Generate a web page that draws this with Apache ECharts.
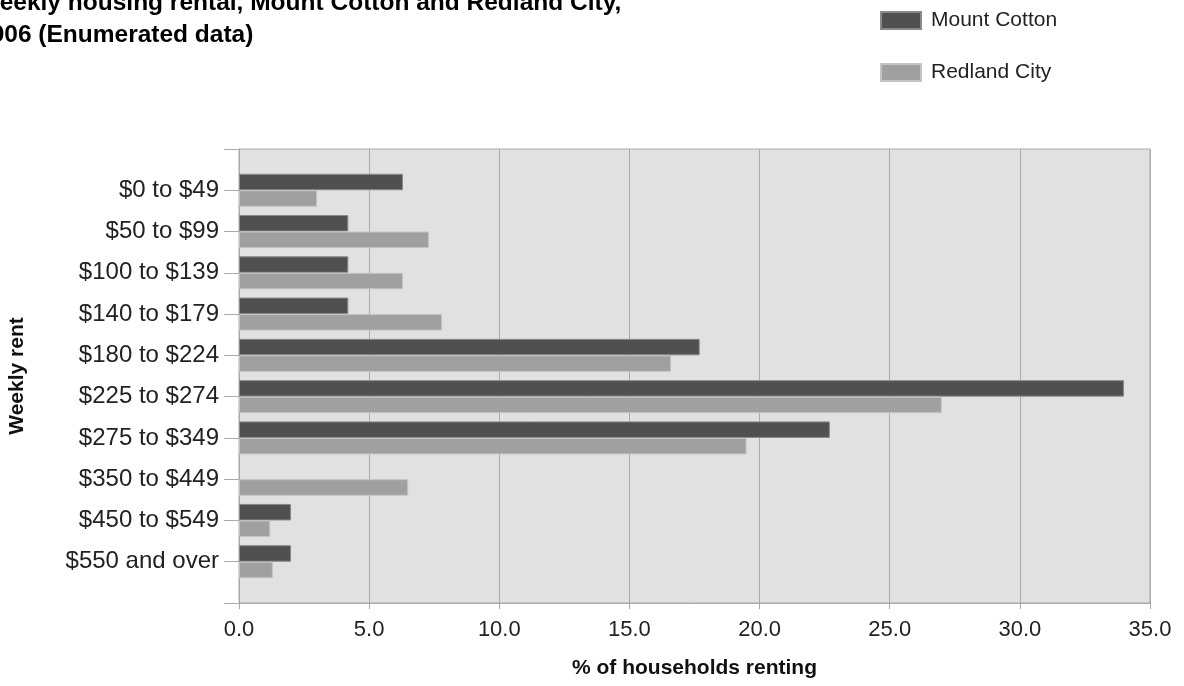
<!DOCTYPE html>
<html>
<head>
<meta charset="utf-8">
<script src="https://cdn.jsdelivr.net/npm/echarts@6/dist/echarts.min.js"></script>
<style>
  html, body { margin: 0; padding: 0; background: #fff; }
  #chart { width: 1184px; height: 686px; }
</style>
</head>
<body>
<div id="chart"></div>
<script>
// weekly rent bands, top to bottom
var categories = ['$0 to $49', '$50 to $99', '$100 to $139', '$140 to $179', '$180 to $224',
    '$225 to $274', '$275 to $349', '$350 to $449', '$450 to $549', '$550 and over'];
// % of households renting
var mountCotton = [6.3, 4.2, 4.2, 4.2, 17.7, 34.0, 22.7, 0, 2.0, 2.0];
var redlandCity = [3.0, 7.3, 6.3, 7.8, 16.6, 27.0, 19.5, 6.5, 1.2, 1.3];
var xTicks = [0, 5, 10, 15, 20, 25, 30, 35];

var chart = echarts.init(document.getElementById('chart'));

// empty slot above and below so the plot has a spare band at each end
function pad(arr) {
    var out = ['-'];
    arr.forEach(function(v) { out.push(v === 0 ? '-' : v); });
    out.push('-');
    return out;
}

var fontFamily = '"Liberation Sans", Arial, sans-serif';

chart.setOption({
    animation: false,
    textStyle: { fontFamily: fontFamily },
    title: {
        text: 'Weekly housing rental, Mount Cotton and Redland City,\n2006 (Enumerated data)',
        left: -23,
        top: -13,
        padding: 0,
        textStyle: { fontSize: 24.5, fontWeight: 'bold', color: '#000', lineHeight: 32, fontFamily: fontFamily }
    },
    legend: {
        orient: 'vertical',
        left: 880,
        top: 10,
        padding: 0,
        itemWidth: 40,
        itemHeight: 17,
        itemGap: 31,
        icon: 'rect',
        textStyle: { fontSize: 21, color: '#222', lineHeight: 20, padding: [0, 0, 0, 5] },
        data: ['Mount Cotton', 'Redland City']
    },
    grid: {
        left: 239,
        right: 34,
        top: 149,
        bottom: 83,
        show: true,
        backgroundColor: '#e1e1e1',
        borderColor: '#aaaaaa',
        borderWidth: 1,
        containLabel: false,
        outerBoundsMode: 'none'
    },
    xAxis: {
        type: 'value',
        min: xTicks[0],
        max: xTicks[xTicks.length - 1],
        interval: 5,
        name: '% of households renting',
        nameLocation: 'middle',
        nameGap: 55,
        nameTextStyle: { fontSize: 21, fontWeight: 'bold', color: '#111' },
        axisLine: { show: true, lineStyle: { color: '#aaaaaa' } },
        axisTick: { show: true, length: 6, lineStyle: { color: '#aaaaaa' } },
        axisLabel: {
            fontSize: 22, color: '#222', margin: 16,
            formatter: function(v) { return v.toFixed(1); }
        },
        splitLine: { show: true, lineStyle: { color: '#aaaaaa', width: 1 } }
    },
    yAxis: {
        type: 'category',
        inverse: true,
        boundaryGap: false,
        data: [''].concat(categories, ['']),
        name: 'Weekly rent',
        nameLocation: 'middle',
        nameGap: 211,
        nameRotate: 90,
        nameTextStyle: { fontSize: 21, fontWeight: 'bold', color: '#111' },
        axisLine: { show: true, lineStyle: { color: '#aaaaaa' } },
        axisTick: { show: true, length: 15, interval: 0, lineStyle: { color: '#aaaaaa' } },
        axisLabel: { fontSize: 24, color: '#222', margin: 20, interval: 0 },
        splitLine: { show: false }
    },
    series: [{
        name: 'Mount Cotton',
        type: 'bar',
        data: pad(mountCotton),
        barGap: '0%',
        barCategoryGap: '20%',
        itemStyle: { color: '#505050', borderColor: '#8a8a8a', borderWidth: 1 }
    }, {
        name: 'Redland City',
        type: 'bar',
        data: pad(redlandCity),
        itemStyle: { color: '#a0a0a0', borderColor: '#c4c4c4', borderWidth: 1 }
    }]
});
</script>
</body>
</html>
